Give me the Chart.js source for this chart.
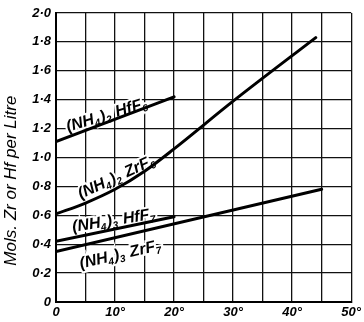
<!DOCTYPE html>
<html>
<head>
<meta charset="utf-8">
<script src="https://cdn.jsdelivr.net/npm/chart.js@4.4.0/dist/chart.umd.min.js"></script>
<style>
  html, body { margin: 0; padding: 0; background: #fff; }
  #wrap { width: 364px; height: 322px; }
</style>
</head>
<body>
<div id="wrap"><canvas id="chart"></canvas></div>
<script>
// solubility curves, temperature in degrees C, mols per litre
const zrF6Temps = [0, 5, 10, 15, 20, 30, 44];
const zrF6Vals = [0.61, 0.685, 0.78, 0.905, 1.06, 1.39, 1.83];
const hfF6Temps = [0, 20];
const hfF6Vals = [1.11, 1.42];
const hfF7Temps = [0, 20];
const hfF7Vals = [0.42, 0.59];
const zrF7Temps = [0, 45];
const zrF7Vals = [0.35, 0.78];

const xTickLabels = ['0', '10°', '20°', '30°', '40°', '50°'];
const yTickLabels = ['0', '0·2', '0·4', '0·6', '0·8', '1·0', '1·2', '1·4', '1·6', '1·8', '2·0'];
const yTitle = 'Mols. Zr or Hf per Litre';

// curve labels ("_x" = subscript), anchored in data units
const curveLabels = ['(NH_4)_2 HfF_6', '(NH_4)_2 ZrF_6', '(NH_4)_3 HfF_7', '(NH_4)_3 ZrF_7'];
const labelTemps = [8.6, 10.2, 9.8, 10.9];
const labelVals = [1.30, 0.87, 0.57, 0.335];
const labelAngles = [-17, -25, -9, -13];

const FONT = '"Liberation Sans", "DejaVu Sans", sans-serif';

function toPoints(xs, ys) {
  return xs.map((x, i) => ({ x, y: ys[i] }));
}

function lineSet(xs, ys, smooth) {
  return {
    data: toPoints(xs, ys),
    showLine: true,
    borderColor: '#000',
    borderWidth: 3,
    pointRadius: 0,
    cubicInterpolationMode: smooth ? 'monotone' : 'default',
    tension: smooth ? 0.4 : 0,
    borderCapStyle: 'round'
  };
}

function parseRich(str) {
  const parts = [];
  let buf = '';
  for (let i = 0; i < str.length; i += 1) {
    if (str[i] === '_') {
      if (buf) parts.push({ t: buf, sub: false });
      buf = '';
      parts.push({ t: str[i + 1], sub: true });
      i += 1;
    } else {
      buf += str[i];
    }
  }
  if (buf) parts.push({ t: buf, sub: false });
  return parts;
}

function drawRich(ctx, str, x, y, angle, size) {
  const parts = parseRich(str);
  const mainFont = `italic bold ${size}px ${FONT}`;
  const subFont = `italic bold ${Math.round(size * 0.62)}px ${FONT}`;
  let w = 0;
  parts.forEach(p => {
    ctx.font = p.sub ? subFont : mainFont;
    p.w = ctx.measureText(p.t).width + (p.sub ? 1 : 0);
    w += p.w;
  });
  ctx.save();
  ctx.translate(x, y);
  ctx.rotate(angle * Math.PI / 180);
  ctx.textBaseline = 'alphabetic';
  ctx.textAlign = 'left';
  // white halo first, then the letters, so the halo never eats a glyph
  ['halo', 'ink'].forEach(pass => {
    let cx = -w / 2;
    parts.forEach(p => {
      ctx.font = p.sub ? subFont : mainFont;
      const dy = size * 0.35 + (p.sub ? size * 0.2 : 0);
      if (pass === 'halo') {
        ctx.lineWidth = 4;
        ctx.strokeStyle = '#fff';
        ctx.strokeText(p.t, cx, dy);
      } else {
        ctx.fillStyle = '#000';
        ctx.fillText(p.t, cx, dy);
      }
      cx += p.w;
    });
  });
  ctx.restore();
}

const labelPlugin = {
  id: 'curveLabels',
  beforeDatasetsDraw(chart) {
    const { ctx, scales } = chart;
    curveLabels.forEach((txt, i) => {
      drawRich(ctx, txt, scales.x.getPixelForValue(labelTemps[i]),
        scales.y.getPixelForValue(labelVals[i]), labelAngles[i], 16);
    });
  },
  afterDraw(chart) {
    const { ctx, scales } = chart;
    ctx.save();
    ctx.translate(11, scales.y.getPixelForValue(0.84));
    ctx.rotate(-Math.PI / 2);
    ctx.font = `italic 17px ${FONT}`;
    ctx.fillStyle = '#000';
    ctx.textAlign = 'center';
    ctx.textBaseline = 'middle';
    ctx.fillText(yTitle, 0, 0);
    ctx.restore();
  }
};

new Chart(document.getElementById('chart'), {
  type: 'scatter',
  data: {
    datasets: [
      lineSet(hfF6Temps, hfF6Vals),
      lineSet(zrF6Temps, zrF6Vals, true),
      lineSet(hfF7Temps, hfF7Vals),
      lineSet(zrF7Temps, zrF7Vals)
    ]
  },
  options: {
    responsive: true,
    maintainAspectRatio: false,
    animation: false,
    events: [],
    layout: { padding: { left: 0, right: 12, top: 13, bottom: 0 } },
    plugins: {
      legend: { display: false },
      tooltip: { enabled: false }
    },
    scales: {
      x: {
        type: 'linear',
        min: 0,
        max: 50,
        afterFit: s => { s.height = 20; },
        afterBuildTicks: s => {
          s.ticks = [];
          for (let v = 0; v <= 50; v += 5) s.ticks.push({ value: v });
        },
        ticks: {
          autoSkip: false,
          maxRotation: 0,
          padding: 3,
          color: '#000',
          font: { family: FONT, size: 13, style: 'italic', weight: 'bold' },
          callback: v => (v % 10 === 0 ? xTickLabels[v / 10] : '')
        },
        grid: { color: '#111', lineWidth: 1.3, drawTicks: false },
        border: { color: '#000', width: 2 }
      },
      y: {
        min: 0,
        max: 2,
        afterFit: s => { s.width = 56; },
        ticks: {
          stepSize: 0.2,
          padding: 5,
          color: '#000',
          font: { family: FONT, size: 13, style: 'italic', weight: 'bold' },
          callback: v => yTickLabels[Math.round(v * 5)]
        },
        grid: { color: '#111', lineWidth: 1.3, drawTicks: false },
        border: { color: '#000', width: 2 }
      }
    }
  },
  plugins: [labelPlugin]
});
</script>
</body>
</html>
